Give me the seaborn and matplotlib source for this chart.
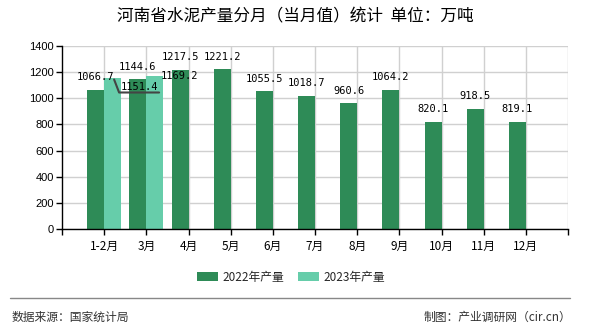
import numpy as np
import pandas as pd
import matplotlib
matplotlib.use("Agg")
import matplotlib.pyplot as plt
from matplotlib.lines import Line2D
from matplotlib.patches import Patch
from matplotlib.transforms import Affine2D
import seaborn as sns

# ---- data ----
months = ["1-2月", "3月", "4月", "5月", "6月", "7月", "8月", "9月", "10月", "11月", "12月"]
prod_2022 = [1066.7, 1144.6, 1217.5, 1221.2, 1055.5, 1018.7, 960.6, 1064.2, 820.1, 918.5, 819.1]
prod_2023 = [1151.4, 1169.2, None, None, None, None, None, None, None, None, None]
series = ["2022年产量", "2023年产量"]
colors = ["#2E8B57", "#66CDAA"]
y_ticks = [0, 200, 400, 600, 800, 1000, 1200, 1400]
title = "河南省水泥产量分月（当月值）统计  单位：万吨"
source = "数据来源：国家统计局"
credit = "制图：产业调研网（cir.cn）"

df = pd.DataFrame({
    "月份": months * 2,
    "系列": [series[0]] * len(months) + [series[1]] * len(months),
    "产量": [np.nan if v is None else v for v in prod_2022 + prod_2023],
})

sns.set_theme(style="white")
plt.rcParams["font.family"] = ["Noto Sans CJK SC", "DejaVu Sans"]

fig = plt.figure(figsize=(5.9, 3.3), dpi=100)
ax = fig.add_axes([62 / 590, 1 - 229 / 330, (568 - 62) / 590, (229 - 46) / 330])

sns.barplot(data=df, x="月份", y="产量", hue="系列", order=months, hue_order=series,
            palette=colors, width=0.8, dodge=True, saturation=1, ax=ax, legend=False,
            edgecolor="none", linewidth=0)

ax.set_xlim(-1, len(months))
ax.set_ylim(0, 1400)
ax.set_yticks(y_ticks)
ax.set_yticklabels([str(t) for t in y_ticks], fontsize=8, family=["Liberation Sans", "DejaVu Sans"])
ax.set_xticks(range(len(months)))
ax.set_xticklabels(months, fontsize=8.5)
ax.set_xticks([-1, len(months)], minor=True)
ax.set_xlabel("")
ax.set_ylabel("")

ax.grid(True, color="#d0d0d0", linewidth=1)
ax.set_axisbelow(True)
for s in ["top", "right"]:
    ax.spines[s].set_visible(False)
for s in ["left", "bottom"]:
    ax.spines[s].set_color("black")
    ax.spines[s].set_linewidth(1)
ax.tick_params(axis="both", which="both", direction="out", length=4, width=1, color="black",
               bottom=True, left=True, labelcolor="black", pad=2)
ax.tick_params(axis="x", pad=4)
ax.axvline(len(months), color="#d0d0d0", linewidth=1, zorder=0)

label_kw = dict(textcoords="offset points", ha="center", va="center", fontsize=7.5,
                family=["DejaVu Sans Mono"], color="black")

# labels for 2022 bars
c22 = ax.containers[0]
for rect, v in zip(c22, prod_2022):
    cx = rect.get_x() + rect.get_width() / 2
    ax.annotate(f"{v}", xy=(cx, v), xytext=(0, 9), **label_kw)

# labels for 2023 bars
c23 = ax.containers[1]
r0 = c23[0]
cx0 = r0.get_x() + r0.get_width() / 2
ax.annotate(f"{prod_2023[0]}", xy=(cx0, prod_2023[0]), xytext=(19, -6), **label_kw)
fig.canvas.draw()
px, py = ax.transData.transform((cx0, prod_2023[0]))
leader = Line2D([1.5, 6.5, 46.5], [-1, -14, -14], color="#444444", linewidth=1.5,
                transform=Affine2D().translate(px, py), zorder=5)
fig.add_artist(leader)

r1 = c23[1]
cx1 = r1.get_x() + r1.get_width() / 2
ax.annotate(f"{prod_2023[1]}", xy=(cx1, prod_2023[1]), xytext=(18, 0), **label_kw)

# title
fig.text(0.5, 1 - 17 / 330, title, ha="center", va="center", fontsize=12, color="black")

# legend
handles = [Patch(facecolor=c, edgecolor="none") for c in colors]
fig.legend(handles, series, loc="center", bbox_to_anchor=(291 / 590, 1 - 277 / 330), ncol=2,
           frameon=False, fontsize=8.5, handlelength=1.8, handleheight=0.7,
           handletextpad=0.35, columnspacing=1.2)

# separator & footer
fig.add_artist(Line2D([10 / 590, 570 / 590], [1 - 298 / 330] * 2, color="#888888", linewidth=1))
fig.text(12 / 590, 1 - 317 / 330, source, ha="left", va="center", fontsize=8.5, color="#333333")
fig.text(571 / 590, 1 - 317 / 330, credit, ha="right", va="center", fontsize=8.5, color="#333333")

fig.savefig("out.png", dpi=100)
